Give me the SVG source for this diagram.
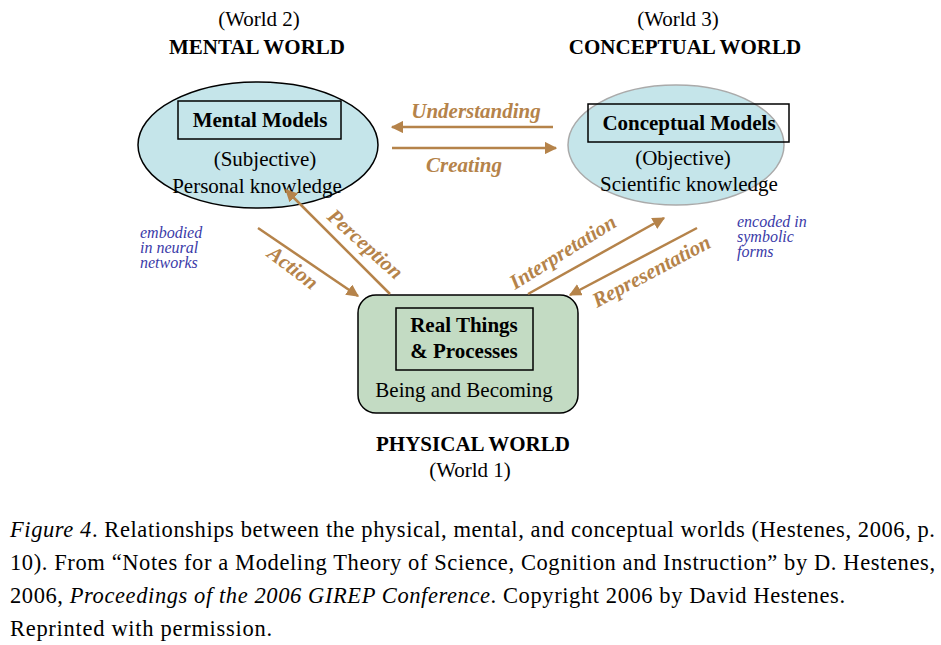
<svg xmlns="http://www.w3.org/2000/svg" width="941" height="645" viewBox="0 0 941 645">
<style>
.t{font-family:"Liberation Serif",serif;fill:#000;font-size:21px}
.a{stroke:#b5834a;stroke-width:2.5;fill:none}
.al{font-family:"Liberation Serif",serif;font-style:italic;font-weight:bold;fill:#b5834a;font-size:21px}
.bl{font-family:"Liberation Serif",serif;font-style:italic;fill:#3a3aa8;font-size:16px}
</style>
<defs><marker id="ah" viewBox="0 0 10 10" refX="9" refY="5" markerWidth="5" markerHeight="5" orient="auto"><path d="M0,0L10,5L0,10z" fill="#b5834a"/></marker></defs>
<rect width="941" height="645" fill="#fff"/>
<g id="mental">
<text class="t" x="259" y="26" text-anchor="middle">(World 2)</text>
<text class="t" x="257" y="54" font-weight="bold" text-anchor="middle">MENTAL WORLD</text>
<ellipse cx="258" cy="145" rx="120" ry="63" fill="#c5e5ea" stroke="#000" stroke-width="1.5"/>
<rect x="178" y="101" width="163" height="38" fill="none" stroke="#000" stroke-width="1.5"/>
<text class="t" x="260" y="127" font-weight="bold" text-anchor="middle">Mental Models</text>
<text class="t" x="265" y="166" text-anchor="middle">(Subjective)</text>
<text class="t" x="257" y="193" text-anchor="middle">Personal knowledge</text>
<text class="bl" x="140" y="238">embodied</text><text class="bl" x="140" y="253">in neural</text><text class="bl" x="140" y="268">networks</text>
</g>
<g id="conceptual">
<text class="t" x="678" y="26" text-anchor="middle">(World 3)</text>
<text class="t" x="685" y="54" font-weight="bold" text-anchor="middle">CONCEPTUAL WORLD</text>
<ellipse cx="676" cy="145" rx="108" ry="60" fill="#c5e5ea" stroke="#aaa" stroke-width="1.5"/>
<rect x="588" y="104" width="201" height="38" fill="none" stroke="#000" stroke-width="1.5"/>
<text class="t" x="689" y="130" font-weight="bold" text-anchor="middle">Conceptual Models</text>
<text class="t" x="683" y="165" text-anchor="middle">(Objective)</text>
<text class="t" x="689" y="191" text-anchor="middle">Scientific knowledge</text>
<text class="bl" x="737" y="227">encoded in</text><text class="bl" x="737" y="242">symbolic</text><text class="bl" x="737" y="257">forms</text>
</g>
<g id="physical">
<rect x="358" y="295" width="220" height="118" rx="18" fill="#c3dbc3" stroke="#000" stroke-width="1.5"/>
<rect x="396" y="308" width="137" height="62" fill="none" stroke="#000" stroke-width="1.5"/>
<text class="t" x="464" y="332" font-weight="bold" text-anchor="middle">Real Things</text>
<text class="t" x="464" y="358" font-weight="bold" text-anchor="middle">&amp; Processes</text>
<text class="t" x="464" y="397" text-anchor="middle">Being and Becoming</text>
<text class="t" x="473" y="451" font-weight="bold" text-anchor="middle">PHYSICAL WORLD</text>
<text class="t" x="470" y="477" text-anchor="middle">(World 1)</text>
</g>
<g id="connectors">
<line class="a" x1="553" y1="127" x2="392" y2="127" marker-end="url(#ah)"/>
<line class="a" x1="392" y1="148" x2="556" y2="148" marker-end="url(#ah)"/>
<line class="a" x1="258" y1="228" x2="358" y2="296" marker-end="url(#ah)"/>
<line class="a" x1="390" y1="294" x2="286" y2="190" marker-end="url(#ah)"/>
<line class="a" x1="528" y1="294" x2="664" y2="218" marker-end="url(#ah)"/>
<line class="a" x1="697" y1="228" x2="570" y2="295" marker-end="url(#ah)"/>
<text class="al" x="476" y="118" text-anchor="middle">Understanding</text>
<text class="al" x="464" y="172" text-anchor="middle">Creating</text>
<text class="al" transform="translate(266,256) rotate(37)">Action</text>
<text class="al" transform="translate(326,218) rotate(42)">Perception</text>
<text class="al" transform="translate(515,290) rotate(-32)">Interpretation</text>
<text class="al" transform="translate(597,308) rotate(-28)">Representation</text>
</g>
<g id="caption" font-family="Liberation Serif,serif" font-size="22.5" fill="#000">
<text x="10" y="537" textLength="925" lengthAdjust="spacing"><tspan font-style="italic">Figure 4</tspan>. Relationships between the physical, mental, and conceptual worlds (Hestenes, 2006, p.</text>
<text x="10" y="570" textLength="925" lengthAdjust="spacing">10). From “Notes for a Modeling Theory of Science, Cognition and Instruction” by D. Hestenes,</text>
<text x="10" y="603" textLength="835" lengthAdjust="spacing">2006, <tspan font-style="italic">Proceedings of the 2006 GIREP Conference</tspan>. Copyright 2006 by David Hestenes.</text>
<text x="10" y="636" textLength="262" lengthAdjust="spacing">Reprinted with permission.</text>
</g>
</svg>
